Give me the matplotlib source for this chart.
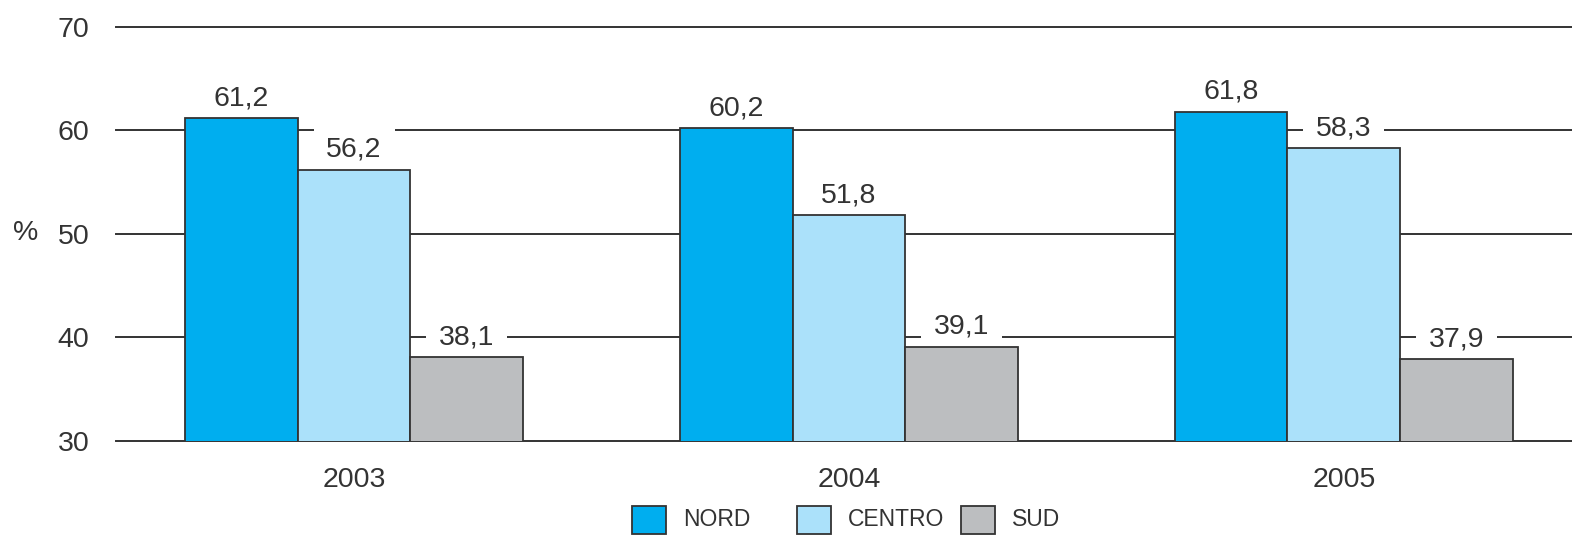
import matplotlib
matplotlib.use("Agg")
import matplotlib.pyplot as plt
from matplotlib.patches import Rectangle
import numpy as np

plt.rcParams['font.family'] = ['Liberation Sans', 'DejaVu Sans']

years = ["2003", "2004", "2005"]
series = ["NORD", "CENTRO", "SUD"]
nord = [61.2, 60.2, 61.8]
centro = [56.2, 51.8, 58.3]
sud = [38.1, 39.1, 37.9]
values = [nord, centro, sud]
colors = ["#00AEEF", "#ABE1FA", "#BCBEC0"]
yticks = [30, 40, 50, 60, 70]

txt = "#333333"
fs = 20.5
fig = plt.figure(figsize=(15.72, 5.36), dpi=100)
ax = fig.add_axes([116/1572, 95/536, 1 - 116/1572, (441-27)/536])

x = np.arange(len(years))
w = 0.228
for j, (name, vals, c) in enumerate(zip(series, values, colors)):
    xs = x + (j - 1) * w
    ax.bar(xs, vals, width=w, bottom=0, color=c, edgecolor="#333333",
           linewidth=1.3, zorder=4)
    for xi, v in zip(xs, vals):
        ax.annotate(f"{v:.1f}".replace(".", ","), (xi, v), xytext=(0, 5),
                    textcoords="offset points", ha="center", va="bottom",
                    fontsize=fs, color=txt, zorder=3,
                    bbox=dict(boxstyle="square,pad=0.45", fc="white", ec="none"))

ax.set_ylim(30, 70)
ax.set_xlim(-0.481, 2.461)
ax.set_yticks(yticks)
ax.set_yticklabels([str(t) for t in yticks])
ax.set_xticks(x)
ax.set_xticklabels(years)
ax.tick_params(axis="both", length=0, labelsize=fs, labelcolor=txt)
ax.tick_params(axis="y", pad=19)
ax.tick_params(axis="x", pad=19)
for s in ax.spines.values():
    s.set_visible(False)
for t in yticks:
    ax.axhline(t, color="#333333", linewidth=1.4, zorder=0.5, clip_on=False)

fig.text(26/1572, 1 - 233/536, "%", fontsize=fs, color=txt, ha="center", va="center")

# legend
patch_x = [632, 797, 961]
for px, name, c in zip(patch_x, series, colors):
    fig.patches.append(Rectangle((px/1572, 1 - 534/536), 34/1572, 28/536,
                                 transform=fig.transFigure, facecolor=c,
                                 edgecolor="#333333", linewidth=1.3))
    fig.text((px + 51)/1572, 1 - 520/536, name, fontsize=16.5, color=txt,
             ha="left", va="center")

fig.savefig("out.png", dpi=100)
